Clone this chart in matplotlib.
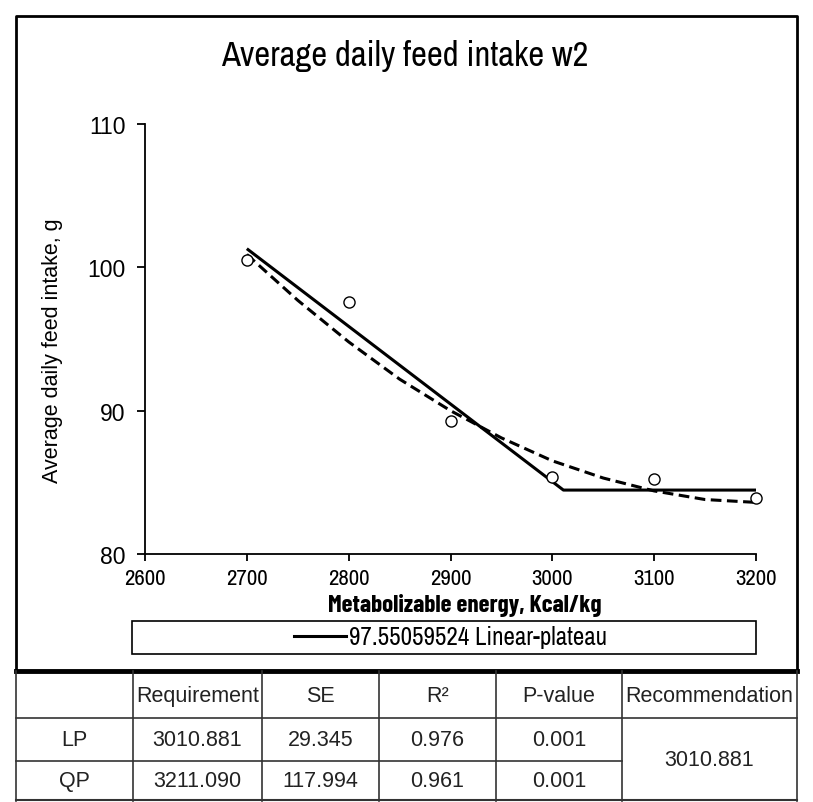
import numpy as np
import matplotlib.pyplot as plt
from matplotlib.lines import Line2D
from matplotlib.patches import Rectangle

# Observed data
energy = [2700, 2800, 2900, 3000, 3100, 3200]
intake = [100.5, 97.6, 89.3, 85.4, 85.2, 83.9]

# Linear-plateau fit (break point, plateau level)
lp_x = [2700, 3010.881, 3200]
lp_y = [101.3, 84.46, 84.46]

# Quadratic-plateau fit
qp_x = [2700, 2750, 2800, 2850, 2900, 2950, 3000, 3050, 3100, 3150, 3200]
qp_y = [100.9, 97.7, 94.8, 92.2, 90.0, 88.1, 86.5, 85.3, 84.4, 83.8, 83.6]

# Table contents
col_labels = ["", "Requirement", "SE", "R²", "P-value", "Recommendation"]
row_labels = ["LP", "QP"]
requirement = ["3010.881", "3211.090"]
se = ["29.345", "117.994"]
r2 = ["0.976", "0.961"]
pvalue = ["0.001", "0.001"]
recommendation = "3010.881"

NARROW = ['Archivo Narrow', 'Liberation Sans', 'DejaVu Sans']
NARROW_BOLD = ['Barlow Condensed', 'Liberation Sans', 'DejaVu Sans']
SANS = ['Liberation Sans', 'DejaVu Sans']

W, H = 813, 803
fig = plt.figure(figsize=(W / 100, H / 100), dpi=100)

# overlay in pixel coordinates for the frame and the table
bg = fig.add_axes([0, 0, 1, 1])
bg.set_xlim(0, W)
bg.set_ylim(H, 0)
bg.axis('off')

# main plot
ax = fig.add_axes([145 / W, 1 - 555 / H, (756 - 145) / W, (555 - 125) / H])
ax.plot(lp_x, lp_y, color='black', lw=2.2, solid_capstyle='butt')
ax.plot(qp_x, qp_y, color='black', lw=2.2, ls=(0, (3.5, 1.8)))
ax.plot(energy, intake, 'o', ms=8, mfc='white', mec='black', mew=1,
        zorder=3, clip_on=False)

ax.set_xlim(2600, 3200)
ax.set_ylim(80, 110)
ax.set_xticks(range(2600, 3201, 100))
ax.set_yticks([80, 90, 100, 110])
for s in ['top', 'right']:
    ax.spines[s].set_visible(False)
for s in ['left', 'bottom']:
    ax.spines[s].set_linewidth(1.3)
ax.tick_params(direction='out', width=1.3)
ax.tick_params(axis='x', length=5, pad=5)
ax.tick_params(axis='y', length=6, pad=8)
for t in ax.get_xticklabels():
    t.set_fontfamily(NARROW)
    t.set_fontsize(16.5)
for t in ax.get_yticklabels():
    t.set_fontfamily(SANS)
    t.set_fontsize(16.5)
ax.set_xlabel("Metabolizable energy, Kcal/kg", family=NARROW_BOLD, fontsize=18,
              fontweight='bold')
ax.xaxis.set_label_coords(0.524, -0.09)
ax.set_ylabel("Average daily feed intake, g", family=SANS, fontsize=15.5)
ax.yaxis.set_label_coords(-0.135, 0.475)

# title
bg.text(405, 56, "Average daily feed intake w2", family=NARROW, fontsize=25,
        ha='center', va='center')

# chart frame
bg.plot([16, 16, 797, 797], [672, 17, 17, 672], color='black', lw=2)
bg.plot([16, 797], [672, 672], color='black', lw=3.5)

# legend with its own box
bg.add_patch(Rectangle((132, 622), 756 - 132, 33, fill=False, ec='black', lw=1.2))
handle = Line2D([], [], color='black', lw=2.2)
fig.legend([handle], ["97.55059524 Linear-plateau"], loc='center',
           bbox_to_anchor=(450 / W, 1 - 638 / H), frameon=False,
           prop={'family': NARROW, 'size': 18}, handlelength=2.1,
           handletextpad=0.1, borderpad=0)

# table
col_x = [16, 133, 262, 379, 496, 622, 797]
row_y = [672, 719, 762, 802]
tc = '#333333'
for x in col_x:
    bg.plot([x, x], [row_y[0], row_y[-1]], color=tc, lw=1.2)
bg.plot([16, 797], [row_y[1], row_y[1]], color=tc, lw=1.2)
bg.plot([16, 622], [row_y[2], row_y[2]], color=tc, lw=1.2)
bg.plot([16, 797], [row_y[3] - 1, row_y[3] - 1], color=tc, lw=1.5)

def cell(i, yc, s):
    bg.text((col_x[i] + col_x[i + 1]) / 2, yc, s, family=SANS, fontsize=15.5,
            ha='center', va='center', color='#222222')

yh = (row_y[0] + row_y[1]) / 2 + 1
for i, s in enumerate(col_labels):
    if s:
        cell(i, yh, s)
for r in range(2):
    yc = (row_y[r + 1] + row_y[r + 2]) / 2
    vals = [row_labels[r], requirement[r], se[r], r2[r], pvalue[r]]
    for i, s in enumerate(vals):
        cell(i, yc, s)
cell(5, (row_y[1] + row_y[3]) / 2, recommendation)

plt.savefig("out.png", dpi=100)
